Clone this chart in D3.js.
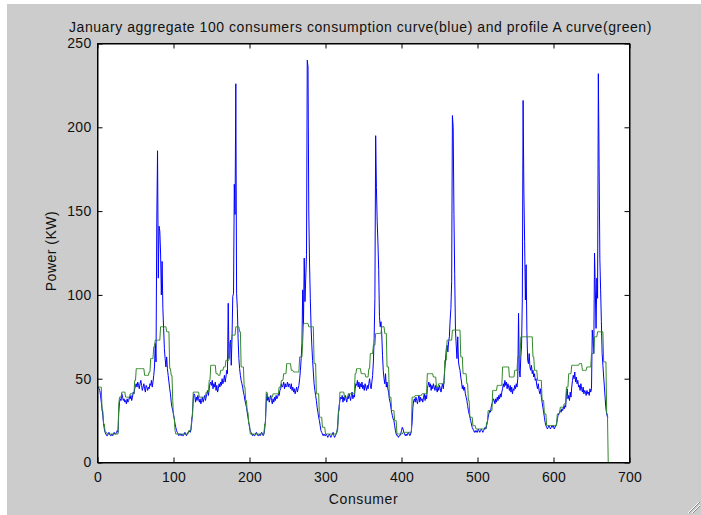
<!DOCTYPE html>
<html>
<head>
<meta charset="utf-8">
<script src="https://cdn.jsdelivr.net/npm/d3@7"></script>
<style>
  html, body { margin: 0; padding: 0; background: #ffffff; }
  svg { display: block; }
  text { font-family: "Liberation Sans", Arial, Helvetica, sans-serif; fill: #111; }
</style>
</head>
<body>
<svg id="chart" width="701" height="515"></svg>
<script>
// Aggregate consumption of 100 consumers in January (kW), one sample per step
const consumption = [
  45,44,43,40,36,32,28,23,20,18,17,16,16,17,18,17,16,16,17,16,17,18,17,17,18,19,18,
  30,36,38,37,41,39,37,38,36,37,35,38,36,37,39,38,40,37,39,42,41,44,46,
  47,45,48,46,44,47,49,46,43,45,47,44,42,46,45,43,45,44,47,46,49,45,48,52,57,
  71,60,143,186,110,141,138,125,100,120,92,80,68,62,57,63,56,52,48,44,41,36,33,31,29,26,23,
  21,19,18,17,16,17,17,16,17,16,16,17,18,17,16,17,18,18,19,18,20,24,30,
  38,41,40,36,39,37,40,38,36,38,35,37,39,36,38,40,37,39,41,43,40,44,47,
  48,46,49,44,47,45,48,43,46,42,44,47,45,48,46,50,47,49,52,48,51,55,53,95,62,
  70,73,58,75,99,101,166,148,226,101,92,74,62,56,52,49,47,45,42,40,37,35,33,30,27,24,21,
  19,18,17,16,17,16,16,17,18,17,16,16,17,16,17,18,17,16,17,20,25,36,41,
  37,39,36,38,40,37,35,38,36,39,37,40,38,39,41,40,43,44,47,45,46,48,44,47,45,
  46,48,45,47,46,44,47,43,45,42,44,41,43,45,42,44,46,50,55,62,71,103,
  82,122,96,110,124,240,236,150,119,98,81,70,61,54,47,43,40,37,33,30,27,25,22,19,18,17,16,17,16,
  16,17,16,15,16,17,16,15,16,17,18,16,15,16,17,18,22,29,34,37,39,38,40,36,39,
  37,40,38,36,39,38,41,39,37,40,42,38,40,39,44,47,46,49,45,48,44,47,45,48,44,46,43,47,45,43,46,44,47,50,
  46,44,48,52,60,74,98,195,164,144,131,115,87,81,84,77,64,55,50,47,53,45,48,44,42,38,36,33,30,28,26,25,22,19,17,
  16,16,15,16,16,17,19,21,20,18,17,16,17,16,17,18,17,16,17,19,24,33,37,38,36,39,37,35,38,40,36,39,37,38,36,39,41,37,40,38,
  44,46,48,45,47,43,46,44,47,45,43,46,44,42,45,43,46,44,42,45,47,44,49,56,62,68,70,66,72,75,85,92,108,
  207,200,148,112,79,70,62,75,60,57,55,51,48,44,46,43,45,41,39,37,34,31,29,27,25,23,21,20,19,18,19,
  18,19,18,20,19,18,19,20,19,18,19,20,21,20,22,24,27,29,31,30,33,35,36,38,37,35,38,36,39,37,40,38,41,39,42,
  44,47,45,49,46,48,44,47,45,43,46,42,45,41,44,43,46,44,47,45,50,89,55,51,
  63,70,98,216,162,132,97,118,78,61,59,65,57,55,58,53,55,51,53,49,50,46,44,47,43,41,44,39,36,33,30,27,24,22,
  21,20,21,22,21,20,21,22,21,22,20,21,22,23,26,28,29,30,31,30,32,31,33,32,34,33,41,44,38,40,37,42,39,
  45,49,52,50,54,48,51,47,49,45,46,43,47,44,42,45,41,43,42,40,43,41,42,40,44,42,44,79,73,65,125,103,80,110,98,232,178,121,103,84,65,58,51,45,38,32,29,27,27
];

// Profile A estimate for the same period (kW)
const profileA = [
  45,45,45,45,45,31,31,23,23,18,18,18,17,17,17,17,17,17,17,17,17,17,17,17,17,17,17,
  35,39,39,39,42,42,42,42,42,39,39,39,39,39,39,41,41,41,41,41,41,49,49,
  56,56,56,56,56,56,56,56,56,56,56,52,52,52,52,52,52,54,54,62,62,62,62,69,69,
  73,73,73,73,73,73,73,81,81,81,81,81,81,81,81,78,78,78,78,56,56,52,52,37,27,27,19,
  17,17,17,17,17,17,17,17,17,17,17,17,17,17,17,17,17,19,19,19,19,27,27,
  42,42,42,42,42,42,42,42,39,39,39,39,39,39,39,39,39,42,42,42,42,49,49,
  58,58,58,58,58,58,58,53,53,53,52,52,52,55,55,55,55,57,57,57,61,61,61,61,61,
  71,71,71,76,76,76,76,76,81,81,81,81,81,78,78,57,57,57,57,45,45,37,37,30,30,23,23,
  17,17,17,17,17,17,17,17,17,17,17,17,17,17,17,17,17,17,17,23,23,42,42,
  39,39,39,39,39,39,39,41,41,41,41,41,41,41,41,45,45,45,49,49,49,53,53,53,53,
  59,59,59,59,59,59,55,55,55,54,54,54,54,54,54,54,54,63,63,63,63,72,
  83,83,83,83,83,83,83,81,81,81,81,81,81,81,59,59,59,41,41,41,41,27,27,27,27,21,21,21,21,
  17,17,17,17,17,17,17,17,17,17,17,17,17,17,17,19,19,31,31,42,42,42,42,42,42,
  39,39,39,39,39,41,41,41,41,41,41,41,41,41,53,53,56,56,56,56,56,56,53,53,53,53,53,53,51,51,51,51,56,56,
  65,65,65,65,70,70,70,77,77,77,77,77,77,77,77,81,81,81,81,77,77,77,57,57,57,39,39,39,31,31,31,31,25,25,25,
  17,17,17,17,17,17,17,17,18,18,18,18,18,18,18,18,18,18,18,18,39,39,39,39,40,40,40,40,40,40,40,40,40,41,41,41,41,41,41,41,
  53,53,53,53,53,53,53,53,51,51,51,51,45,45,45,47,47,47,47,47,47,47,47,61,61,61,73,73,73,73,73,73,73,
  79,79,79,79,79,79,79,79,79,79,79,63,63,63,53,53,53,53,53,47,47,37,37,27,27,27,27,22,22,22,22,
  20,20,20,20,20,20,20,20,20,20,20,20,20,20,24,24,31,31,31,31,31,31,43,43,43,43,43,43,46,46,46,46,46,46,46,
  57,57,57,57,57,57,57,57,57,51,51,51,51,51,51,51,55,55,55,55,63,63,63,63,
  75,75,75,75,75,75,75,75,75,75,75,75,75,75,75,75,63,63,55,55,55,55,49,49,49,49,49,49,37,37,37,29,29,29,
  22,22,22,22,22,22,22,22,22,22,22,22,22,22,29,29,29,29,33,33,33,33,33,35,35,35,45,45,45,53,53,53,53,
  58,58,58,58,58,58,58,58,58,58,59,59,59,59,55,55,55,55,55,55,57,57,57,57,57,57,65,65,65,65,75,75,75,75,78,78,78,78,78,78,78,78,60,60,60,60,29,29,0
];

const xTicks = [0, 100, 200, 300, 400, 500, 600, 700];
const yTicks = [0, 50, 100, 150, 200, 250];

const titleText = "January aggregate 100 consumers consumption curve(blue) and profile A curve(green)";
const xLabel = "Consumer";
const yLabel = "Power (KW)";

const svg = d3.select("#chart");
const W = 701, H = 515;
const plot = { left: 97.5, right: 629.5, top: 43.5, bottom: 462.5 };

// figure window background
svg.append("rect").attr("x", 0).attr("y", 0).attr("width", W).attr("height", H).attr("fill", "#ffffff");
svg.append("rect").attr("x", 7).attr("y", 4).attr("width", W - 7).attr("height", H - 4).attr("fill", "#cccccc");

// resize grip in the lower right corner
const grip = svg.append("g").attr("stroke-width", 1);
[[688, 513, 699, 502, "#ffffff"], [689, 513, 700, 502, "#888888"], [692, 513, 700, 505, "#ffffff"], [693, 513, 700, 506, "#888888"]]
  .forEach(([x1, y1, x2, y2, c]) => grip.append("line").attr("x1", x1).attr("y1", y1).attr("x2", x2).attr("y2", y2).attr("stroke", c));

const x = d3.scaleLinear().domain([0, 700]).range([plot.left, plot.right]);
const y = d3.scaleLinear().domain([0, 250]).range([plot.bottom, plot.top]);

// axes area
svg.append("rect")
  .attr("x", plot.left).attr("y", plot.top)
  .attr("width", plot.right - plot.left).attr("height", plot.bottom - plot.top)
  .attr("fill", "#ffffff");

svg.append("clipPath").attr("id", "plotClip")
  .append("rect")
  .attr("x", plot.left).attr("y", plot.top - 1)
  .attr("width", plot.right - plot.left).attr("height", plot.bottom - plot.top + 1);

const lineGen = d3.line()
  .x((d, i) => x(i + 1))
  .y(d => y(d));

const lines = svg.append("g").attr("clip-path", "url(#plotClip)");
lines.append("path")
  .datum(consumption)
  .attr("fill", "none")
  .attr("stroke", "#0000ff")
  .attr("stroke-width", 1)
  .attr("d", lineGen);
lines.append("path")
  .datum(profileA)
  .attr("fill", "none")
  .attr("stroke", "#33882a")
  .attr("stroke-width", 1)
  .attr("d", lineGen);

const fontSize = "14px";
const tick = 5;

const gx = svg.append("g").attr("transform", `translate(0,${plot.bottom})`)
  .call(d3.axisBottom(x).tickValues(xTicks).tickFormat(d3.format("d")).tickSize(-tick).tickSizeOuter(0).tickPadding(10));
const gxTop = svg.append("g").attr("transform", `translate(0,${plot.top})`)
  .call(d3.axisTop(x).tickValues(xTicks).tickFormat("").tickSize(-tick).tickSizeOuter(0));
const gy = svg.append("g").attr("transform", `translate(${plot.left},0)`)
  .call(d3.axisLeft(y).tickValues(yTicks).tickFormat(d3.format("d")).tickSize(-tick).tickSizeOuter(0).tickPadding(6));
const gyRight = svg.append("g").attr("transform", `translate(${plot.right},0)`)
  .call(d3.axisRight(y).tickValues(yTicks).tickFormat("").tickSize(-tick).tickSizeOuter(0));

[gx, gxTop, gy, gyRight].forEach(g => {
  g.selectAll("path.domain").attr("stroke", "#000").attr("stroke-width", 1);
  g.selectAll(".tick line").attr("stroke", "#000").attr("stroke-width", 1);
  g.selectAll("text").attr("font-size", fontSize).attr("fill", "#111")
    .attr("letter-spacing", "0.3px")
    .attr("font-family", "'Liberation Sans', Arial, sans-serif");
});

// box outline
svg.append("rect")
  .attr("x", plot.left).attr("y", plot.top)
  .attr("width", plot.right - plot.left).attr("height", plot.bottom - plot.top)
  .attr("fill", "none").attr("stroke", "#000").attr("stroke-width", 1);

svg.append("text")
  .attr("x", (plot.left + plot.right) / 2 - 3).attr("y", 32)
  .attr("text-anchor", "middle").attr("font-size", fontSize)
  .attr("letter-spacing", "0.55px")
  .text(titleText);

svg.append("text")
  .attr("x", (plot.left + plot.right) / 2).attr("y", 504)
  .attr("text-anchor", "middle").attr("font-size", fontSize)
  .attr("letter-spacing", "0.6px")
  .text(xLabel);

svg.append("text")
  .attr("transform", `translate(56,${(plot.top + plot.bottom) / 2 - 2}) rotate(-90)`)
  .attr("text-anchor", "middle").attr("font-size", fontSize)
  .attr("letter-spacing", "0.5px")
  .text(yLabel);
</script>
</body>
</html>
